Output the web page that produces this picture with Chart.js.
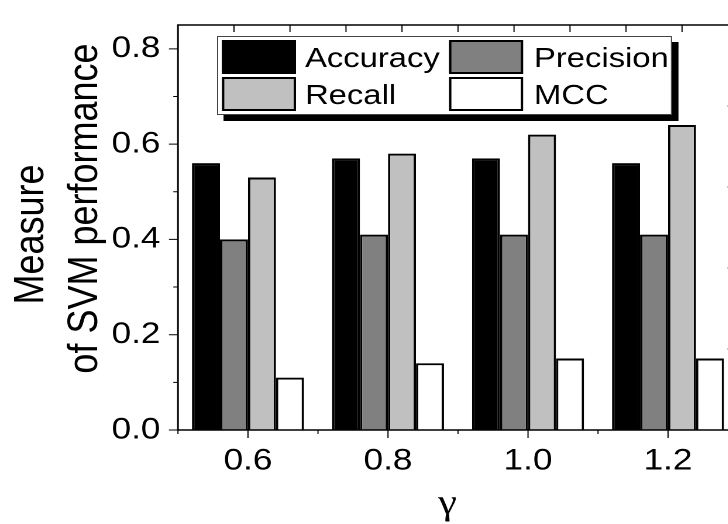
<!DOCTYPE html>
<html>
<head>
<meta charset="utf-8">
<script src="https://cdn.jsdelivr.net/npm/chart.js@4"></script>
<style>
  html, body { margin: 0; padding: 0; background: #fff; overflow: hidden; width: 728px; height: 524px; }
  #wrap { position: absolute; left: 0; top: 0; width: 650px; height: 524px; transform: scaleX(1.17); transform-origin: 0 0; }
</style>
</head>
<body>
<div id="wrap"><canvas id="c"></canvas></div>
<script>
// ---- data ----
const categories = ['0.6', '0.8', '1.0', '1.2'];
const seriesNames = ['Accuracy', 'Precision', 'Recall', 'MCC'];
const accuracy  = [0.56, 0.57, 0.57, 0.56];
const precision = [0.40, 0.41, 0.41, 0.41];
const recall    = [0.53, 0.58, 0.62, 0.64];
const mcc       = [0.11, 0.14, 0.15, 0.15];
const yTickValues = [0.0, 0.2, 0.4, 0.6, 0.8];
const yTitleLines = ['Measure', 'of SVM performance'];
const xTitle = 'γ';

const colors = ['#000000', '#808080', '#c0c0c0', '#ffffff'];
const values = [accuracy, precision, recall, mcc];

const axesPlugin = {
  id: 'axesPlugin',
  afterDraw(chart) {
    const ctx = chart.ctx;
    const ca = chart.chartArea;
    const xs = chart.scales.x, ys = chart.scales.y;
    ctx.save();
    ctx.strokeStyle = '#000';
    // frame
    ctx.lineWidth = 1.5;
    ctx.strokeRect(ca.left, ca.top, ca.right - ca.left, ca.bottom - ca.top);
    ctx.lineWidth = 1;
    ctx.beginPath();
    // left axis ticks (outward): major every 0.2, minor at 0.1 odd
    for (let k = 0; k <= 8; k++) {
      const y = ys.getPixelForValue(k / 10);
      const len = (k % 2 === 0) ? 7.7 : 4;
      ctx.moveTo(ca.left, y); ctx.lineTo(ca.left - len, y);
    }
    // bottom ticks (outward): major at category centres, minor at boundaries
    const n = categories.length;
    for (let i = 0; i < n; i++) {
      const x = xs.getPixelForValue(i);
      ctx.moveTo(x, ca.bottom); ctx.lineTo(x, ca.bottom + 8);
    }
    const step = (ca.right - ca.left) / n;
    for (let i = 0; i <= n; i++) {
      const x = ca.left + i * step;
      ctx.moveTo(x, ca.bottom); ctx.lineTo(x, ca.bottom + 4);
    }
    // top ticks (inward), 10 divisions
    for (let i = 1; i < 10; i++) {
      const x = ca.left + i * (ca.right - ca.left) / 10;
      ctx.moveTo(x, ca.top); ctx.lineTo(x, ca.top + 7);
    }
    // right ticks (inward), 5 divisions
    for (let i = 1; i < 5; i++) {
      const y = ca.top + i * (ca.bottom - ca.top) / 5;
      ctx.moveTo(ca.right, y); ctx.lineTo(ca.right - 9, y);
    }
    ctx.stroke();

    // legend
    const L = ca.left, T = ca.top;
    const fx = L + 33.4, fy = T + 11, fw = 388.9, fh = 79;
    ctx.fillStyle = '#000';
    ctx.fillRect(fx + 5.5, fy + 6, fw, fh);
    ctx.fillStyle = '#fff';
    ctx.fillRect(fx, fy, fw, fh);
    ctx.lineWidth = 1;
    ctx.strokeStyle = '#444';
    ctx.strokeRect(fx + 0.5, fy + 0.5, fw - 1, fh - 1);
    const colX = [L + 37.6, L + 231.7];
    const textX = [L + 108.6, L + 304.3];
    const rowY = [T + 15, T + 52];
    const baseY = [T + 42, T + 79];
    ctx.font = '28px "Liberation Sans", Arial, sans-serif';
    ctx.textBaseline = 'alphabetic';
    ctx.textAlign = 'left';
    chart.data.datasets.forEach((ds, i) => {
      const c = i % 2, r = Math.floor(i / 2);
      ctx.fillStyle = ds.backgroundColor;
      ctx.fillRect(colX[c], rowY[r], 63.3, 34);
      ctx.lineWidth = 2;
      ctx.strokeStyle = '#000';
      ctx.strokeRect(colX[c] + 1, rowY[r] + 1, 61.3, 32);
      ctx.fillStyle = '#000';
      ctx.fillText(ds.label, textX[c], baseY[r]);
    });

    // y title (rotated, two lines)
    const midY = (ca.top + ca.bottom) / 2;
    ctx.font = '36px "Liberation Sans", Arial, sans-serif';
    ctx.textAlign = 'center';
    const lines = [{ t: yTitleLines[0], x: 36.8, y: midY + 7 }, { t: yTitleLines[1], x: 82.9, y: midY - 19 }];
    lines.forEach(l => {
      ctx.save();
      ctx.translate(l.x, l.y);
      ctx.rotate(-Math.PI / 2);
      ctx.fillText(l.t, 0, 0);
      ctx.restore();
    });

    // x title
    ctx.font = '36px "Liberation Serif", "Times New Roman", serif';
    ctx.textAlign = 'center';
    ctx.fillText(xTitle, (ca.left + ca.right) / 2 - 9, 514);
    ctx.restore();
  }
};

new Chart(document.getElementById('c'), {
  type: 'bar',
  data: {
    labels: categories,
    datasets: seriesNames.map((name, i) => ({
      label: name,
      data: values[i],
      backgroundColor: colors[i],
      borderColor: '#000',
      borderWidth: 2,
      categoryPercentage: 0.8,
      barPercentage: 1.0
    }))
  },
  options: {
    responsive: true,
    maintainAspectRatio: false,
    devicePixelRatio: 2,
    animation: false,
    layout: { padding: { left: 0, right: 19.2, top: 16, bottom: 0 } },
    plugins: { legend: { display: false }, tooltip: { enabled: false }, title: { display: false } },
    scales: {
      x: {
        grid: { color: 'transparent', drawTicks: true, tickLength: 8 },
        border: { display: false },
        ticks: { color: '#000', padding: 5, font: { family: '"Liberation Sans", Arial, sans-serif', size: 30 }, maxRotation: 0 },
        afterFit(scale) { scale.height = 94; }
      },
      y: {
        min: 0, max: 0.85,
        afterBuildTicks(scale) { scale.ticks = yTickValues.map(v => ({ value: v })); },
        grid: { color: 'transparent', drawTicks: true, tickLength: 8 },
        border: { display: false },
        ticks: { color: '#000', padding: 7, font: { family: '"Liberation Sans", Arial, sans-serif', size: 30 },
                 callback: v => Number(v).toFixed(1) },
        afterFit(scale) { scale.width = 152.1; }
      }
    }
  },
  plugins: [axesPlugin]
});
</script>
</body>
</html>
